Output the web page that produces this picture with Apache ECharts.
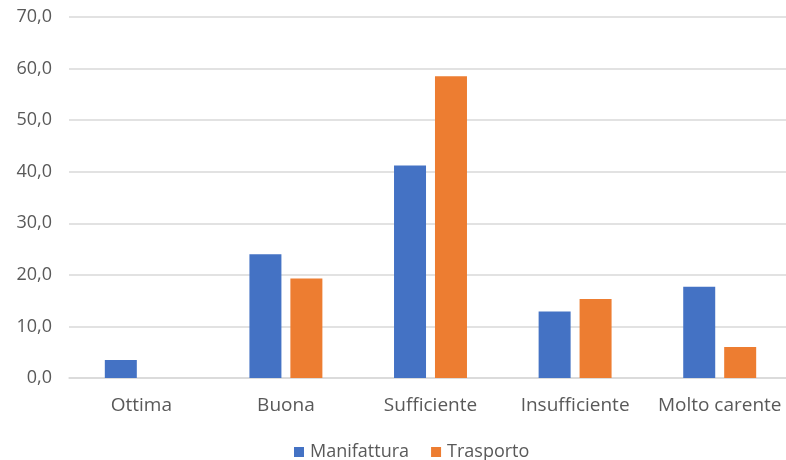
<!DOCTYPE html>
<html>
<head>
<meta charset="utf-8">
<script src="https://cdn.jsdelivr.net/npm/echarts@6/dist/echarts.min.js"></script>
<style>html,body{margin:0;padding:0;background:#fff}#c{width:786px;height:460px}</style>
</head>
<body>
<div id="c"></div>
<script>
const categories = ['Ottima', 'Buona', 'Sufficiente', 'Insufficiente', 'Molto carente'];
const manifattura = [3.5, 24.0, 41.2, 12.9, 17.7];
const trasporto = [0, 19.3, 58.5, 15.3, 6.0];
const seriesNames = ['Manifattura', 'Trasporto'];

const chart = echarts.init(document.getElementById('c'), null, {renderer: 'canvas'});
const font = '"Open Sans", "Noto Sans", sans-serif';
chart.setOption({
  animation: false,
  color: ['#4472C4', '#ED7D31'],
  grid: {left: 69, width: 723, top: 17, bottom: 82, containLabel: false, outerBoundsMode: 'none'},
  legend: {
    data: seriesNames,
    bottom: -1,
    left: 294,
    padding: 0,
    itemWidth: 10,
    itemHeight: 10,
    itemGap: 22,
    icon: 'rect',
    textStyle: {color: '#595959', fontSize: 18, fontFamily: font, padding: [0, 0, 0, 1]}
  },
  xAxis: {
    type: 'category',
    data: categories,
    axisLine: {lineStyle: {color: '#d9d9d9', width: 1.5}},
    axisTick: {show: false},
    axisLabel: {color: '#595959', fontSize: 19, fontFamily: font, margin: 18, interval: 0}
  },
  yAxis: {
    type: 'value',
    min: 0, max: 70, interval: 10,
    axisLine: {show: false},
    axisTick: {show: false},
    splitLine: {lineStyle: {color: '#d9d9d9', width: 1.5}},
    axisLabel: {color: '#595959', fontSize: 18, fontFamily: font, margin: 17,
      formatter: v => v.toFixed(1).replace('.', ',')}
  },
  series: [
    {name: seriesNames[0], type: 'bar', data: manifattura, barWidth: 32, barGap: '28%'},
    {name: seriesNames[1], type: 'bar', data: trasporto, barWidth: 32, barGap: '28%'}
  ]
});
</script>
</body>
</html>
